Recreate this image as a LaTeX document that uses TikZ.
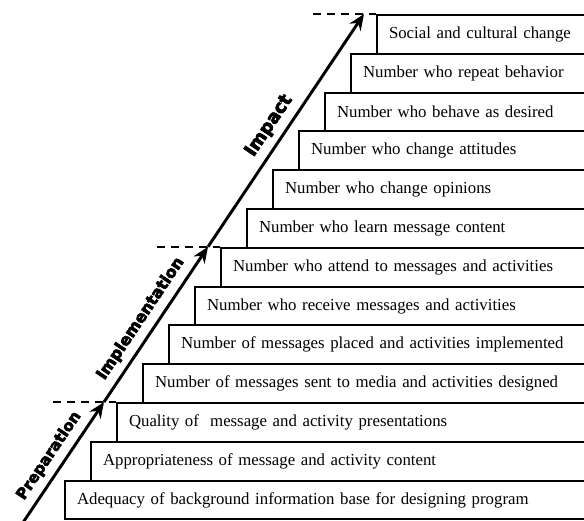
\documentclass[tikz,border=0pt]{standalone}
\usepackage{fontspec}
\setmainfont{Liberation Serif}
\newfontfamily\stagefont{DejaVu Sans Bold}[FakeBold=4]
\usetikzlibrary{arrows.meta}

\begin{document}
\begin{tikzpicture}[
    x=0.75pt, y=-0.75pt,
    stair/.style={
        rectangle,
        draw=black,
        line width=1.5pt,
        anchor=north west,
        minimum height=29.1pt,
        text width=500pt,
        align=left,
        inner xsep=9pt,
        inner ysep=0pt,
        font=\fontsize{12.6}{15}\selectfont
    },
    arrow/.style={
        -{Stealth[length=12pt, width=10pt]},
        line width=2.2pt
    },
    level/.style={
        dashed,
        line width=1.6pt,
        dash pattern=on 6pt off 4.5pt
    },
    stage/.style={
        font=\stagefont\fontsize{#1}{#1}\selectfont,
        sloped,
        above,
        inner sep=5pt
    }
]

\clip (0,0) rectangle (584,520);

% Preparation steps
\node[stair] (adequacy) at (64,479.6) {Adequacy of background information base for designing program};
\node[stair] (appropriate) at (90,440.8) {Appropriateness of message and activity content};
\node[stair] (quality) at (116,402) {Quality of~~message and activity presentations};

% Implementation steps
\node[stair] (sent) at (142,363.2) {Number of messages sent to media and activities designed};
\node[stair] (placed) at (168,324.4) {Number of messages placed and activities implemented};
\node[stair] (receive) at (194,285.6) {Number who receive messages and activities};
\node[stair] (attend) at (220,246.8) {Number who attend to messages and activities};

% Impact steps
\node[stair] (learn) at (246,208) {Number who learn message content};
\node[stair] (opinions) at (272,169.2) {Number who change opinions};
\node[stair] (attitudes) at (298,130.4) {Number who change attitudes};
\node[stair] (behave) at (324,91.6) {Number who behave as desired};
\node[stair] (repeat) at (350,52.8) {Number who repeat behavior};
\node[stair] (social) at (376,14) {Social and cultural change};

% Arrow points
\coordinate (start) at (20,527);
\coordinate (prepend) at (104,402);
\coordinate (implend) at (208,246.8);
\coordinate (impactend) at (364,14);

% Dashed levels
\coordinate (preplevel) at (53,402);
\coordinate (impllevel) at (157,246.8);
\coordinate (impactlevel) at (313,14);
\draw[level] (preplevel) -- (quality.north west);
\draw[level] (impllevel) -- (attend.north west);
\draw[level] (impactlevel) -- (social.north west);

% Arrows
\draw[arrow] (start) -- node[stage=11.5, pos=0.5] (prep) {Preparation} (prepend);
\draw[arrow] (prepend) -- node[stage=12, pos=0.48] (impl) {Implementation} (implend);
\draw[arrow] (implend) -- node[stage=13.5, pos=0.48] (impact) {Impact} (impactend);

\end{tikzpicture}
\end{document}
